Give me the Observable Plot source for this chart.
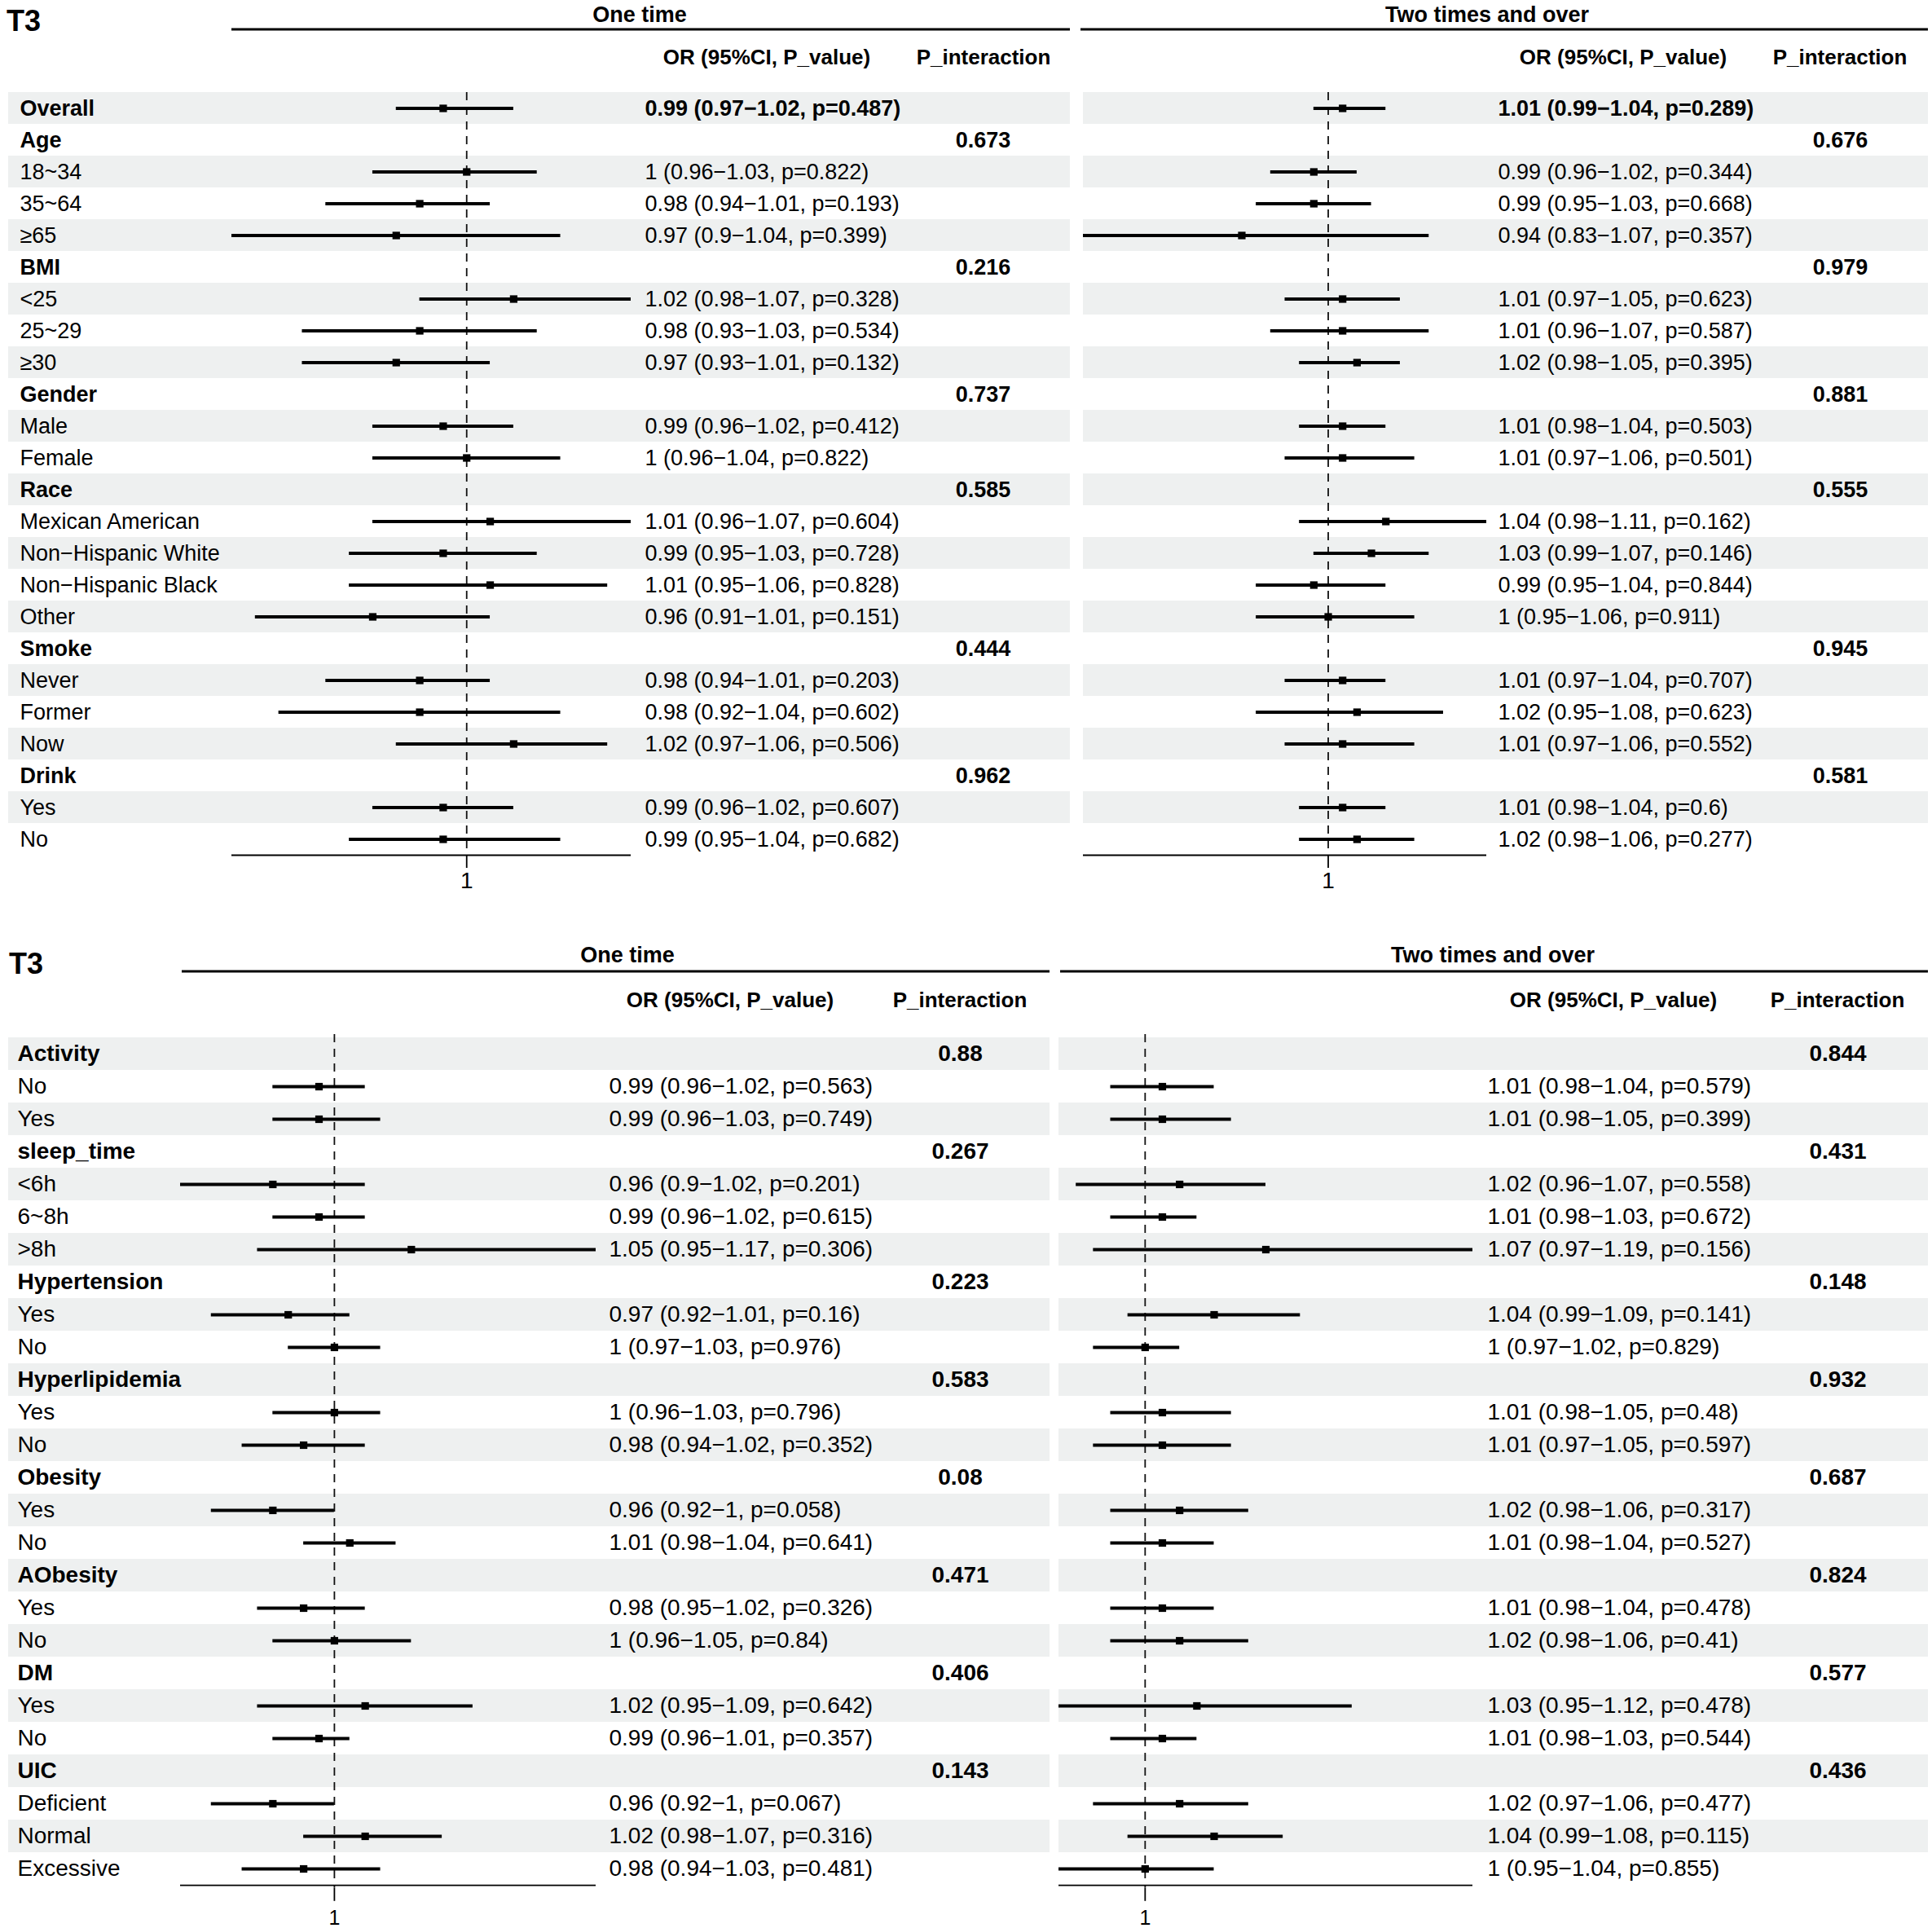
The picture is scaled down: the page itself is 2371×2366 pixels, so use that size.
<!DOCTYPE html>
<html><head><meta charset="utf-8">
<script src="https://cdn.jsdelivr.net/npm/d3@7"></script>
<script src="https://cdn.jsdelivr.net/npm/@observablehq/plot@0.6"></script>
<style>
body{margin:0;background:#fff;}
#root{position:relative;width:2371px;height:2366px;overflow:hidden;font-family:"Liberation Sans",Arial,sans-serif;background:#fff;}
#root > *{position:absolute;}
</style></head><body><div id="root"></div>
<script>
// ---------- text ----------
const panelTitle = "T3";
const sectionTitles = ["One time", "Two times and over"];
const columnHeads = ["OR (95%CI, P_value)", "P_interaction"];
const refTick = [1];

// ---------- top panel ----------
const topLabels = ["Overall","Age","18~34","35~64","≥65","BMI","<25","25~29","≥30","Gender","Male","Female","Race","Mexican American","Non−Hispanic White","Non−Hispanic Black","Other","Smoke","Never","Former","Now","Drink","Yes","No"];
const topHeadings = ["Overall","Age","BMI","Gender","Race","Smoke","Drink"];
// [OR, lower, upper, p]
const topOne = [
  [0.99,0.97,1.02,0.487], null,
  [1,0.96,1.03,0.822],[0.98,0.94,1.01,0.193],[0.97,0.9,1.04,0.399], null,
  [1.02,0.98,1.07,0.328],[0.98,0.93,1.03,0.534],[0.97,0.93,1.01,0.132], null,
  [0.99,0.96,1.02,0.412],[1,0.96,1.04,0.822], null,
  [1.01,0.96,1.07,0.604],[0.99,0.95,1.03,0.728],[1.01,0.95,1.06,0.828],[0.96,0.91,1.01,0.151], null,
  [0.98,0.94,1.01,0.203],[0.98,0.92,1.04,0.602],[1.02,0.97,1.06,0.506], null,
  [0.99,0.96,1.02,0.607],[0.99,0.95,1.04,0.682]];
const topOnePint = [null,0.673,null,null,null,0.216,null,null,null,0.737,null,null,0.585,null,null,null,null,0.444,null,null,null,0.962,null,null];
const topTwo = [
  [1.01,0.99,1.04,0.289], null,
  [0.99,0.96,1.02,0.344],[0.99,0.95,1.03,0.668],[0.94,0.83,1.07,0.357], null,
  [1.01,0.97,1.05,0.623],[1.01,0.96,1.07,0.587],[1.02,0.98,1.05,0.395], null,
  [1.01,0.98,1.04,0.503],[1.01,0.97,1.06,0.501], null,
  [1.04,0.98,1.11,0.162],[1.03,0.99,1.07,0.146],[0.99,0.95,1.04,0.844],[1,0.95,1.06,0.911], null,
  [1.01,0.97,1.04,0.707],[1.02,0.95,1.08,0.623],[1.01,0.97,1.06,0.552], null,
  [1.01,0.98,1.04,0.6],[1.02,0.98,1.06,0.277]];
const topTwoPint = [null,0.676,null,null,null,0.979,null,null,null,0.881,null,null,0.555,null,null,null,null,0.945,null,null,null,0.581,null,null];
const topOneDomain = [0.9, 1.07];
const topTwoDomain = [0.83, 1.11];

// ---------- bottom panel ----------
const botLabels = ["Activity","No","Yes","sleep_time","<6h","6~8h",">8h","Hypertension","Yes","No","Hyperlipidemia","Yes","No","Obesity","Yes","No","AObesity","Yes","No","DM","Yes","No","UIC","Deficient","Normal","Excessive"];
const botHeadings = ["Activity","sleep_time","Hypertension","Hyperlipidemia","Obesity","AObesity","DM","UIC"];
const botOne = [null,
  [0.99,0.96,1.02,0.563],[0.99,0.96,1.03,0.749], null,
  [0.96,0.9,1.02,0.201],[0.99,0.96,1.02,0.615],[1.05,0.95,1.17,0.306], null,
  [0.97,0.92,1.01,0.16],[1,0.97,1.03,0.976], null,
  [1,0.96,1.03,0.796],[0.98,0.94,1.02,0.352], null,
  [0.96,0.92,1,0.058],[1.01,0.98,1.04,0.641], null,
  [0.98,0.95,1.02,0.326],[1,0.96,1.05,0.84], null,
  [1.02,0.95,1.09,0.642],[0.99,0.96,1.01,0.357], null,
  [0.96,0.92,1,0.067],[1.02,0.98,1.07,0.316],[0.98,0.94,1.03,0.481]];
const botOnePint = [0.88,null,null,0.267,null,null,null,0.223,null,null,0.583,null,null,0.08,null,null,0.471,null,null,0.406,null,null,0.143,null,null,null];
const botTwo = [null,
  [1.01,0.98,1.04,0.579],[1.01,0.98,1.05,0.399], null,
  [1.02,0.96,1.07,0.558],[1.01,0.98,1.03,0.672],[1.07,0.97,1.19,0.156], null,
  [1.04,0.99,1.09,0.141],[1,0.97,1.02,0.829], null,
  [1.01,0.98,1.05,0.48],[1.01,0.97,1.05,0.597], null,
  [1.02,0.98,1.06,0.317],[1.01,0.98,1.04,0.527], null,
  [1.01,0.98,1.04,0.478],[1.02,0.98,1.06,0.41], null,
  [1.03,0.95,1.12,0.478],[1.01,0.98,1.03,0.544], null,
  [1.02,0.97,1.06,0.477],[1.04,0.99,1.08,0.115],[1,0.95,1.04,0.855]];
const botTwoPint = [0.844,null,null,0.431,null,null,null,0.148,null,null,0.932,null,null,0.687,null,null,0.824,null,null,0.577,null,null,0.436,null,null,null];
const botOneDomain = [0.9, 1.17];
const botTwoDomain = [0.95, 1.19];

// ---------- build ----------
const root = document.getElementById("root");
const FONT = '"Liberation Sans", Arial, sans-serif';
const SHADE = "#EEF0F0";

function section(cfg) {
  const n = cfg.labels.length;
  const rows = cfg.labels.map((label, i) => ({
    i, label, heading: cfg.headings.includes(label), e: cfg.est[i], pint: cfg.pint[i]
  }));
  const est = rows.filter(d => d.e);
  const fmt = d => `${d.e[0]} (${d.e[1]}−${d.e[2]}, p=${d.e[3]})`;
  const axisRow = [{i: n - 1, lo: cfg.domain[0], hi: cfg.domain[1]}];
  const marks = [
    Plot.cell(rows.filter(d => d.i % 2 === 0), {y: "i", fill: SHADE}),
    Plot.ruleX(refTick, {stroke: "#111", strokeWidth: 1.8, strokeDasharray: "10,8"}),
    Plot.ruleY(axisRow, {y: "i", x1: "lo", x2: "hi", dy: cfg.rowH / 2, stroke: "#000", strokeWidth: 1.8}),
    Plot.ruleY(est, {y: "i", x1: d => d.e[1], x2: d => d.e[2], stroke: "#000", strokeWidth: 3.8}),
    Plot.dot(est, {y: "i", x: d => d.e[0], symbol: "square", r: 5.2, fill: "#000", stroke: null}),
    Plot.text(est.filter(d => !d.heading), {y: "i", text: fmt, frameAnchor: "left", textAnchor: "start", dx: cfg.orX, fontSize: cfg.fs, fill: "#000"}),
    Plot.text(est.filter(d => d.heading), {y: "i", text: fmt, frameAnchor: "left", textAnchor: "start", dx: cfg.orX, fontSize: cfg.fs, fontWeight: "bold", fill: "#000"}),
    Plot.text(rows.filter(d => d.pint != null), {y: "i", text: d => String(d.pint), frameAnchor: "left", textAnchor: "middle", dx: cfg.pX, fontSize: cfg.fs, fontWeight: "bold", fill: "#000"})
  ];
  if (cfg.labelX != null) {
    marks.push(
      Plot.text(rows.filter(d => !d.heading), {y: "i", text: "label", frameAnchor: "left", textAnchor: "start", dx: cfg.labelX, fontSize: cfg.fs, fill: "#000"}),
      Plot.text(rows.filter(d => d.heading), {y: "i", text: "label", frameAnchor: "left", textAnchor: "start", dx: cfg.labelX, fontSize: cfg.fs, fontWeight: "bold", fill: "#000"})
    );
  }
  const svg = Plot.plot({
    width: cfg.width,
    height: n * cfg.rowH + cfg.mb,
    marginTop: 0, marginBottom: cfg.mb, marginLeft: 0, marginRight: 0,
    style: {fontFamily: FONT, fontSize: cfg.axisFs + "px", background: "transparent", overflow: "visible", color: "#000"},
    x: {domain: cfg.domain, range: cfg.xRange, ticks: refTick, tickSize: 16, tickPadding: cfg.tickPad, tickFormat: d => String(d), label: null},
    y: {type: "band", domain: d3.range(n), padding: 0, axis: null},
    marks
  });
  // enlarge the axis tick label and tick stroke to match the reference
  d3.select(svg).selectAll("text").filter(function () {
    return !this.closest('g[aria-label="text"]');
  }).each(function () {
    this.setAttribute("font-size", cfg.axisFs);
    this.style.fontSize = cfg.axisFs + "px";
    this.style.fontFamily = FONT;
  });
  d3.select(svg).selectAll("g").filter(function () {
    const a = this.getAttribute("aria-label") || "";
    return a.indexOf("axis") >= 0;
  }).each(function () {
    this.setAttribute("font-size", cfg.axisFs);
    this.style.fontSize = cfg.axisFs + "px";
    d3.select(this).selectAll("line, path").attr("stroke-width", 1.8);
  });
  svg.style.left = cfg.left + "px";
  svg.style.top = cfg.top + "px";
  svg.style.maxWidth = "none";
  root.appendChild(svg);
}

// overlay headers
const ov = d3.select(root).append("svg").attr("width", 2371).attr("height", 2366)
  .style("left", "0px").style("top", "0px").style("font-family", FONT);
function txt(x, y, s, size, anchor) {
  ov.append("text").attr("x", x).attr("y", y).attr("font-size", size).attr("font-weight", "bold")
    .attr("text-anchor", anchor).attr("fill", "#000").text(s);
}
function hline(x1, x2, y) {
  ov.append("line").attr("x1", x1).attr("x2", x2).attr("y1", y).attr("y2", y).attr("stroke", "#000").attr("stroke-width", 3);
}
// top headers
txt(8, 38, panelTitle, 36, "start");
txt(785, 27, sectionTitles[0], 27, "middle");
txt(1825, 27, sectionTitles[1], 27, "middle");
hline(284, 1313, 36); hline(1326, 2366, 36);
txt(941, 79, columnHeads[0], 26, "middle");
txt(1207, 79, columnHeads[1], 26, "middle");
txt(1992, 79, columnHeads[0], 26, "middle");
txt(2258, 79, columnHeads[1], 26, "middle");
// bottom headers
txt(11, 1195, panelTitle, 36, "start");
txt(770, 1181, sectionTitles[0], 27, "middle");
txt(1832, 1181, sectionTitles[1], 27, "middle");
hline(223, 1288, 1192); hline(1301, 2366, 1192);
txt(896, 1236, columnHeads[0], 26, "middle");
txt(1178, 1236, columnHeads[1], 26, "middle");
txt(1980, 1236, columnHeads[0], 26, "middle");
txt(2255, 1236, columnHeads[1], 26, "middle");

section({labels: topLabels, headings: topHeadings, est: topOne, pint: topOnePint, domain: topOneDomain,
  left: 10, top: 113, width: 1303, rowH: 39, mb: 60, xRange: [274, 764], labelX: 14, orX: 781, pX: 1196, fs: 27, axisFs: 28, tickPad: 5});
section({labels: topLabels, headings: topHeadings, est: topTwo, pint: topTwoPint, domain: topTwoDomain,
  left: 1329, top: 113, width: 1037, rowH: 39, mb: 60, xRange: [0, 495], labelX: null, orX: 509, pX: 929, fs: 27, axisFs: 28, tickPad: 5});
section({labels: botLabels, headings: botHeadings, est: botOne, pint: botOnePint, domain: botOneDomain,
  left: 10, top: 1269, width: 1278, rowH: 40.3, mb: 49, xRange: [211, 721], labelX: 11, orX: 737, pX: 1168, fs: 28, axisFs: 25, tickPad: 11});
section({labels: botLabels, headings: botHeadings, est: botTwo, pint: botTwoPint, domain: botTwoDomain,
  left: 1299, top: 1269, width: 1067, rowH: 40.3, mb: 49, xRange: [0, 508], labelX: null, orX: 526, pX: 956, fs: 28, axisFs: 25, tickPad: 11});
</script></body></html>
